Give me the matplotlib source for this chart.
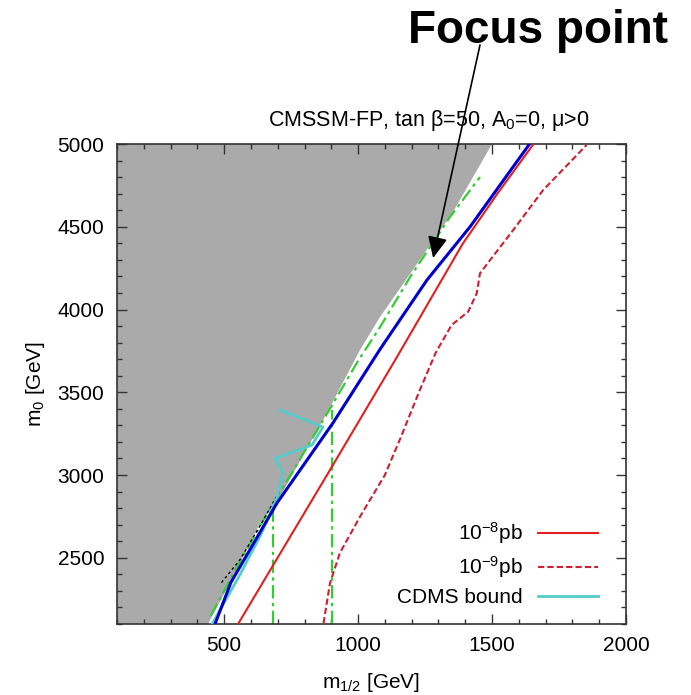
import numpy as np
import matplotlib.pyplot as plt
from matplotlib.ticker import MultipleLocator

plt.rcParams['font.family'] = ['Liberation Sans', 'DejaVu Sans']
plt.rcParams['mathtext.fontset'] = 'custom'
plt.rcParams['mathtext.rm'] = 'Liberation Sans'
plt.rcParams['mathtext.it'] = 'Liberation Sans:italic'

# ---- datos (m_1/2, m_0) en GeV ----
edge_x = [100, 440, 533, 634, 708, 884, 1007, 1082, 1186, 1354, 1500, 100]
edge_y = [2100, 2100, 2384, 2710, 2867, 3375, 3755, 3955, 4196, 4589, 5000, 5000]

green_x = [450, 540, 640, 700, 895, 1000, 1082, 1194, 1343, 1455]
green_y = [2150, 2420, 2710, 2870, 3400, 3690, 3894, 4196, 4559, 4800]
green_v1 = [682, 2100, 2807]
green_v2 = [903, 2100, 3393]

black_x = [490, 560, 640, 708]
black_y = [2350, 2490, 2710, 2905]

blue_x = [466, 525, 697, 906, 1082, 1257, 1418, 1640]
blue_y = [2100, 2350, 2830, 3314, 3760, 4178, 4500, 5000]

red_x = [552, 895, 1145, 1390, 1520, 1655]
red_y = [2100, 3030, 3713, 4396, 4700, 5000]

red9_x = [871, 895, 932, 1007, 1100, 1160, 1227, 1290, 1349, 1411, 1443, 1455, 1579, 1691, 1853]
red9_y = [2104, 2346, 2529, 2748, 3000, 3230, 3500, 3740, 3906, 3987, 4098, 4219, 4480, 4722, 4994]

cdms_x = [455, 560, 640, 697, 720, 690, 828, 869, 708]
cdms_y = [2100, 2400, 2650, 2861, 3012, 3100, 3181, 3290, 3393]

fig = plt.figure(figsize=(6.91, 6.95), dpi=100)
ax = fig.add_axes([0.1693, 0.1022, 0.7366, 0.6906])

ax.fill(edge_x, edge_y, color='#aaaaaa', lw=0, zorder=1)

gstyle = dict(color='#33cc33', lw=1.6, ls=(0, (6, 2, 1.5, 2)), zorder=2)
ax.plot(green_x, green_y, **gstyle)
ax.plot([green_v1[0]] * 2, green_v1[1:], **gstyle)
ax.plot([green_v2[0]] * 2, green_v2[1:], **gstyle)
ax.plot(black_x, black_y, color='black', lw=1.0, ls=(0, (2, 2)), zorder=2)

ax.plot(blue_x, blue_y, color='#0000cc', lw=2.2, zorder=4)
ax.plot(red_x, red_y, color='#e02020', lw=1.5, zorder=3, label='10$^{-8}$pb')
ax.plot(red9_x, red9_y, color='#cc1f2f', lw=1.5, ls=(0, (3, 1.5)), zorder=3, label='10$^{-9}$pb')
ax.plot(cdms_x, cdms_y, color='#55cccc', lw=2.0, zorder=3, label='CDMS bound')

ax.set_xlim(100, 2000)
ax.set_ylim(2100, 5000)
ax.xaxis.set_minor_locator(MultipleLocator(100))
ax.yaxis.set_minor_locator(MultipleLocator(100))
ax.set_xticks([500, 1000, 1500, 2000])
ax.set_yticks([2500, 3000, 3500, 4000, 4500, 5000])
ax.tick_params(which='both', direction='in', top=True, right=True, labelsize=15, width=1.0, color='#333333')
ax.tick_params(which='major', length=7, pad=9)
ax.tick_params(which='minor', length=3.5)
for s in ax.spines.values():
    s.set_linewidth(1.2)
    s.set_color('#333333')

ax.set_xlabel('$\\mathrm{m}_{1/2}$ [GeV]', fontsize=15, labelpad=11)
ax.set_ylabel('$\\mathrm{m}_{0}$ [GeV]', fontsize=15, labelpad=8)

ax.text(268 / 691, 1 - 126 / 695, 'CMSSM-FP, tan \u03b2=50, A$_0$=0, \u03bc>0',
        transform=fig.transFigure, fontsize=15.5, ha='left', va='baseline')

ax.legend(loc='lower right', bbox_to_anchor=(0.945, 0.035), frameon=False, markerfirst=False,
          fontsize=15, handlelength=2.9, handletextpad=0.7, labelspacing=0.38,
          borderpad=0, borderaxespad=0)

fig.text(408 / 691, 1 - 43 / 695, 'Focus point', fontsize=33, fontweight='bold',
         ha='left', va='baseline')
ax.annotate('', xy=(1280, 4311), xycoords='data',
            xytext=(480 / 691, 1 - 45 / 695), textcoords='figure fraction',
            arrowprops=dict(arrowstyle='-|>,head_length=0.65,head_width=0.3',
                            mutation_scale=20, lw=1.2, color='black',
                            shrinkA=0, shrinkB=0),
            annotation_clip=False, zorder=6)

plt.savefig('out.png', dpi=100)
